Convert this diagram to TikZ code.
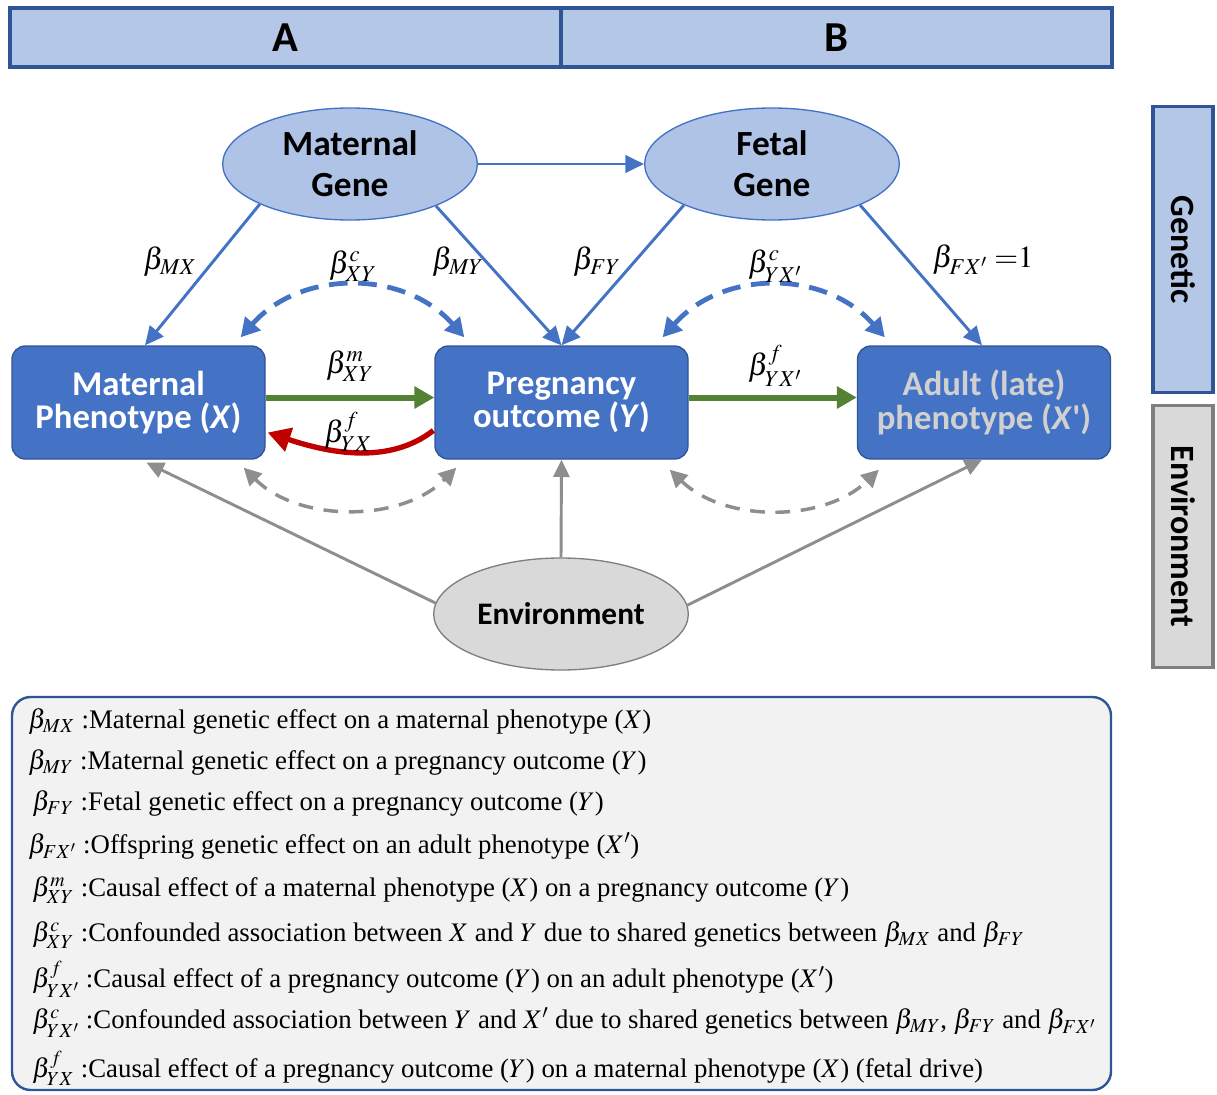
\documentclass[tikz,border=0pt]{standalone}
\usepackage{mathptmx}
\usepackage[no-math]{fontspec}
\setmainfont{Liberation Serif}
\newfontfamily\carl{Carlito}
\usetikzlibrary{arrows.meta,shapes.geometric,calc}
\definecolor{bluefill}{HTML}{4472C4}
\definecolor{bluedark}{HTML}{2F5597}
\definecolor{lightblue}{HTML}{B4C7E7}
\definecolor{ellfill}{HTML}{AFC3E7}
\definecolor{grayfill}{HTML}{D9D9D9}
\definecolor{graydark}{HTML}{7F7F7F}
\definecolor{arrgray}{HTML}{8E8E8E}
\definecolor{mygreen}{HTML}{548235}
\definecolor{myred}{HTML}{C00000}
\definecolor{legfill}{HTML}{F2F2F2}
\definecolor{adulttext}{HTML}{D0D0D0}
\tikzset{
  phbox/.style={rectangle, rounded corners=10pt, fill=bluefill, draw=bluedark, line width=1pt,
    minimum width=189.75pt, minimum height=84.75pt, text=white, inner sep=0pt,
    font=\carl\bfseries\fontsize{26}{25}\selectfont, align=center},
  gene/.style={ellipse, fill=ellfill, draw=bluefill, line width=1pt,
    minimum width=191pt, minimum height=84pt, inner sep=0pt,
    font=\carl\bfseries\fontsize{26.5}{31}\selectfont, align=center},
  envell/.style={gene, fill=grayfill, draw=graydark, font=\carl\bfseries\fontsize{23.5}{28}\selectfont},
  topbar/.style={rectangle, fill=lightblue, draw=bluedark, line width=2.4pt,
    minimum width=413.25pt, minimum height=44.25pt, inner sep=0pt,
    font=\carl\bfseries\fontsize{32}{34}\selectfont},
  sidebar/.style={rectangle, line width=2.4pt, minimum width=45pt, inner sep=0pt,
    font=\carl\bfseries\fontsize{25.5}{27}\selectfont},
  lab/.style={inner sep=0pt, font=\fontsize{23}{25}\selectfont},
  legline/.style={anchor=west, inner sep=0pt, font=\fontsize{20.1}{22}\selectfont},
  bluearr/.style={draw=bluefill, line width=2.2pt, -{Triangle[length=14pt,width=13pt]}},
  bluedash/.style={draw=bluefill, line width=3.6pt, dash pattern=on 14pt off 8pt,
    {Triangle[length=14pt,width=15pt]}-{Triangle[length=14pt,width=15pt]}},
  grayarr/.style={draw=arrgray, line width=2.2pt, -{Triangle[length=13pt,width=12pt]}},
  graydash/.style={draw=arrgray, line width=2.6pt, dash pattern=on 11pt off 8pt,
    {Triangle[length=13pt,width=13pt]}-{Triangle[length=13pt,width=13pt]}},
  greenarr/.style={draw=mygreen, line width=4.5pt, -{Triangle[length=15pt,width=16pt]}},
  redarr/.style={draw=myred, line width=4pt, -{Triangle[length=17pt,width=18pt]}},
}
\begin{document}
\begin{tikzpicture}[x=0.75pt,y=-0.75pt]
\useasboundingbox (0,0) rectangle (1217,1095);
% top bar
\node[topbar] (ta) at (285.5,37.5) {A};
\node[topbar] (tb) at (836.5,37.5) {B};
% side bars
\node[sidebar, fill=lightblue, draw=bluedark, minimum height=215pt] (sg) at (1183,249.5) {\rotatebox{-90}{Genetic}};
\node[sidebar, fill=grayfill, draw=graydark, minimum height=197pt] (se) at (1183,536.5) {\rotatebox{-90}{Environment}};
% nodes
\node[gene] (mg) at (350,164) {Maternal\\Gene};
\node[gene] (fg) at (772,164) {Fetal\\Gene};
\node[envell] (env) at (561,614) {Environment};
\node[phbox] (mp) at (138.5,402.5) {Maternal\\Phenotype (\textit{X})};
\node[phbox] (po) at (561.5,402.5) {Pregnancy\\outcome (\textit{Y})};
\node[phbox, text=adulttext] (ap) at (984,402.5) {Adult (late)\\phenotype (\textit{X}')};
% genetic arrows
\draw[bluearr] (mg.east) -- (fg.west);
\draw[bluearr] (mg.-156) -- ($(mp.north)+(6.5,0)$);
\draw[bluearr] (mg.-26) -- (po.north);
\draw[bluearr] (fg.-155) -- (po.north);
\draw[bluearr] (fg.-25) -- ($(ap.north)+(-2,0)$);
% confounding (genetic)
\draw[bluedash] ($(mp.north east)+(-25,-8)$) .. controls +(60,-68) and +(-60,-68) .. ($(po.north west)+(30,-8)$);
\draw[bluedash] ($(po.north east)+(-26,-8)$) .. controls +(60,-68) and +(-60,-68) .. ($(ap.north west)+(28,-8)$);
% causal
\draw[greenarr] ($(mp.east)+(0,-5)$) -- ($(po.west)+(0,-5)$);
\draw[greenarr] ($(po.east)+(0,-5)$) -- ($(ap.west)+(0,-5)$);
\draw[redarr] ($(po.west)+(-1,28)$) .. controls +(-45,35) and +(60,20) .. ($(mp.east)+(2,30)$);
% environment
\draw[graydash] ($(mp.south east)+(-22,8)$) .. controls +(55,55) and +(-55,55) .. ($(po.south west)+(22,8)$);
\draw[graydash] ($(po.south east)+(-19,10)$) .. controls +(55,53) and +(-55,53) .. ($(ap.south west)+(22,10)$);
\draw[grayarr] (env.175) -- ($(mp.south)+(8,3)$);
\draw[grayarr] (env.north) -- (po.south);
\draw[grayarr] (env.4) -- ($(ap.south)+(-2,0)$);
% labels
\node[lab] (lmx) at (170,262) {$\beta_{MX}$};
\node[lab] (lcxy) at (353,266) {$\beta^{c}_{XY}$};
\node[lab] (lmy) at (458,262) {$\beta_{MY}$};
\node[lab] (lfy) at (597,262) {$\beta_{FY}$};
\node[lab] (lcyx) at (775,266) {$\beta^{c}_{YX'}$};
\node[lab] (lfx) at (983,260) {$\beta_{FX'}\;{=}1$};
\node[lab] (lmxy) at (350,366) {$\beta^{m}_{XY}$};
\node[lab] (lfyx) at (348,432) {$\beta^{f}_{YX}$};
\node[lab] (lfyx2) at (775,366) {$\beta^{f}_{YX'}$};
% legend
\node[rectangle, rounded corners=14pt, fill=legfill, draw=bluedark, line width=1.8pt,
  minimum width=824.25pt, minimum height=294.75pt] (leg) at (561.5,893.5) {};
\node[legline] (l1) at (28,722) {$\beta_{MX}$ :Maternal genetic effect on a maternal phenotype ($X$)};
\node[legline] (l2) at (28,763) {$\beta_{MY}$ :Maternal genetic effect on a pregnancy outcome ($Y$)};
\node[legline] (l3) at (32,804) {$\beta_{FY}$ :Fetal genetic effect on a pregnancy outcome ($Y$)};
\node[legline] (l4) at (28,846) {$\beta_{FX'}$ :Offspring genetic effect on an adult phenotype ($X'$)};
\node[legline] (l5) at (32,890) {$\beta^{m}_{XY}$ :Causal effect of a maternal phenotype ($X$) on a pregnancy outcome ($Y$)};
\node[legline] (l6) at (32,935) {$\beta^{c}_{XY}$ :Confounded association between $X$ and $Y$ due to shared genetics between $\beta_{MX}$ and $\beta_{FY}$};
\node[legline] (l7) at (32,979) {$\beta^{f}_{YX'}$ :Causal effect of a pregnancy outcome ($Y$) on an adult phenotype ($X'$)};
\node[legline] (l8) at (32,1023) {$\beta^{c}_{YX'}$ :Confounded association between $Y$ and $X'$ due to shared genetics between $\beta_{MY}$, $\beta_{FY}$ and $\beta_{FX'}$};
\node[legline] (l9) at (32,1068) {$\beta^{f}_{YX}$ :Causal effect of a pregnancy outcome ($Y$) on a maternal phenotype ($X$) (fetal drive)};
\end{tikzpicture}
\end{document}
